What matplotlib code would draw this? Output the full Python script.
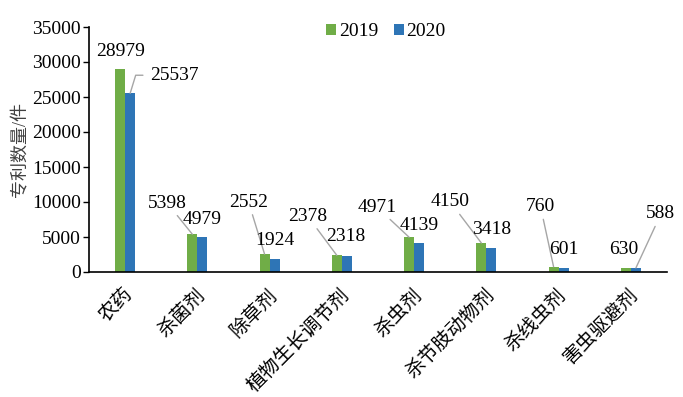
import numpy as np
import matplotlib
matplotlib.use('Agg')
import matplotlib.pyplot as plt
import matplotlib.transforms as mtransforms

plt.rcParams['font.family'] = ['Liberation Serif', 'Noto Sans CJK SC']

categories = ['农药', '杀菌剂', '除草剂', '植物生长调节剂', '杀虫剂', '杀节肢动物剂', '杀线虫剂', '害虫驱避剂']
v2019 = [28979, 5398, 2552, 2378, 4971, 4150, 760, 630]
v2020 = [25537, 4979, 1924, 2318, 4139, 3418, 601, 588]

# label offsets (pixels) from the top centre of each bar
off2019 = [(0, 18), (-25, 31), (-16, 52), (-29, 39), (-32, 30), (-31, 41), (-13, 60), (-2, 18)]
off2020 = [(44, 18), (0, 18), (0, 18), (-1, 19), (0, 18), (0, 19), (0, 18), (25, 54)]

green, blue = '#70AD47', '#2E75B6'

fig = plt.figure(figsize=(6.83, 3.97), dpi=100)
ax = fig.add_axes([89/683, 1-272/397, 578/683, 245/397])

x = np.arange(len(categories))
w = 0.14
ax.bar(x - w/2, v2019, w, color=green, label='2019')
ax.bar(x + w/2, v2020, w, color=blue, label='2020')

def put_labels(xs, vals, offs):
    for xi, v, (dx, dy) in zip(xs, vals, offs):
        if np.hypot(dx, dy) > 25:
            arrow = dict(arrowstyle='-', color='#A6A6A6', lw=1.0, shrinkA=1, shrinkB=0)
            if dx > 30:
                # elbow leader: short horizontal arm, then down to the bar
                arrow.update(relpos=(0, 0.5), shrinkA=3,
                             connectionstyle='angle,angleA=0,angleB=73,rad=0')
        else:
            arrow = None
        ax.annotate(str(v), xy=(xi, v), xytext=(dx, dy), textcoords='offset pixels',
                    ha='center', va='center', fontsize=14, color='black',
                    arrowprops=arrow)

put_labels(x - w/2, v2019, off2019)
put_labels(x + w/2, v2020, off2020)

ax.set_xlim(-0.5, len(categories) - 0.5)
ax.set_ylim(0, 35000)
ax.set_yticks(np.arange(0, 35001, 5000))
ax.tick_params(axis='y', labelsize=14, length=4, width=1, direction='out', pad=2)
ax.tick_params(axis='x', length=0, pad=6)
ax.set_xticks(x)
ax.set_xticklabels(categories, rotation=45, ha='right', va='center',
                   rotation_mode='anchor', fontsize=14)
shift = mtransforms.ScaledTranslation(5/100, -12/100, fig.dpi_scale_trans)
for lab in ax.get_xticklabels():
    lab.set_transform(lab.get_transform() + shift)
for s in ['top', 'right']:
    ax.spines[s].set_visible(False)
for s in ['left', 'bottom']:
    ax.spines[s].set_color('black')
    ax.spines[s].set_linewidth(1.2)

ax.set_ylabel('专利数量/件', fontsize=13, color='#404040', labelpad=2)

ax.legend(loc='center', bbox_to_anchor=(0.514, 0.98), ncol=2, frameon=False,
          fontsize=14, handlelength=0.5, handleheight=0.5, handletextpad=0.15,
          columnspacing=0.8)

fig.savefig('out.png', dpi=100)
